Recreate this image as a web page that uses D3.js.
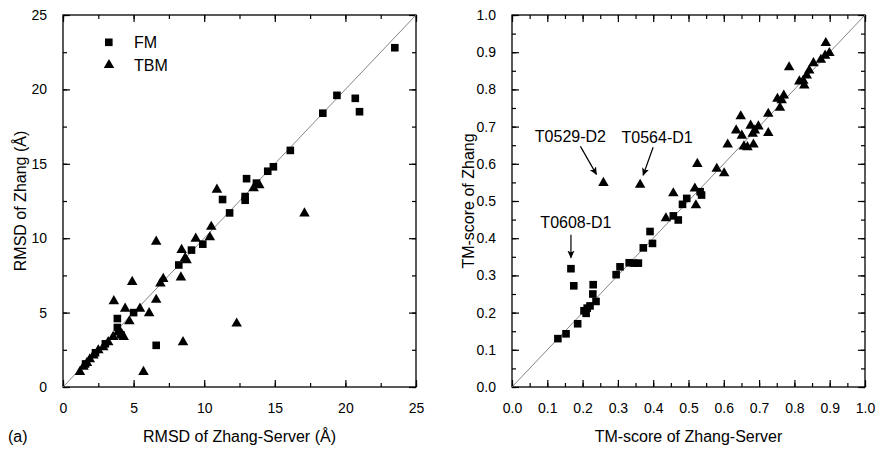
<!DOCTYPE html>
<html>
<head>
<meta charset="utf-8">
<script src="https://cdn.jsdelivr.net/npm/d3@7"></script>
<style>
  body { margin: 0; background: #fff; }
  svg text { font-family: "Liberation Sans", Arial, sans-serif; fill: #000; }
</style>
</head>
<body>
<div id="chart"></div>
<script>
// left panel: RMSD (x = Zhang-Server, y = Zhang)
var rmsdFM = [
  [23.5, 22.8], [19.4, 19.6], [20.7, 19.4], [21.0, 18.5], [18.4, 18.4],
  [16.1, 15.9], [14.9, 14.8], [14.5, 14.5], [13.0, 14.0], [13.7, 13.7],
  [12.9, 12.8], [12.9, 12.55], [11.8, 11.7], [11.3, 12.6], [9.9, 9.6],
  [9.1, 9.2], [8.2, 8.2], [5.0, 5.0], [3.85, 4.6], [3.85, 4.0],
  [6.6, 2.8], [4.1, 3.5], [3.0, 2.9], [2.3, 2.3], [1.6, 1.55]
];
var rmsdTBM = [
  [17.1, 11.7], [12.3, 4.3], [10.9, 13.3], [10.5, 10.8], [10.4, 10.1],
  [9.4, 10.0], [6.6, 9.8], [8.4, 9.25], [8.75, 8.55], [8.65, 8.7],
  [8.35, 7.4], [7.1, 7.3], [6.9, 7.0], [4.9, 7.1], [6.6, 5.9],
  [3.6, 5.8], [4.4, 5.3], [5.45, 5.3], [6.1, 5.0], [4.7, 4.45],
  [4.15, 3.6], [3.9, 3.7], [4.3, 3.4], [8.5, 3.05], [5.7, 1.05],
  [13.5, 13.4], [13.9, 13.6], [3.55, 3.4], [3.2, 3.05], [2.85, 2.7],
  [2.5, 2.5], [2.15, 2.15], [1.9, 1.9], [1.7, 1.65], [1.45, 1.4], [1.2, 1.05]
];

// right panel: TM-score
var tmFM = [
  [0.13, 0.13], [0.153, 0.143], [0.167, 0.318], [0.175, 0.272], [0.186, 0.17],
  [0.204, 0.205], [0.21, 0.198], [0.213, 0.212], [0.221, 0.218], [0.229, 0.25],
  [0.23, 0.275], [0.238, 0.23], [0.295, 0.302], [0.306, 0.323], [0.332, 0.334],
  [0.346, 0.333], [0.358, 0.333], [0.372, 0.374], [0.391, 0.418], [0.398, 0.386],
  [0.457, 0.46], [0.471, 0.449], [0.483, 0.491], [0.495, 0.507], [0.533, 0.525],
  [0.537, 0.516]
];
var tmTBM = [
  [0.259, 0.55], [0.363, 0.545], [0.436, 0.455], [0.457, 0.522], [0.518, 0.535],
  [0.521, 0.49], [0.525, 0.601], [0.58, 0.588], [0.601, 0.576], [0.611, 0.653],
  [0.635, 0.691], [0.648, 0.729], [0.651, 0.677], [0.657, 0.648], [0.667, 0.646],
  [0.676, 0.704], [0.682, 0.682], [0.684, 0.653], [0.688, 0.691], [0.698, 0.702],
  [0.726, 0.736], [0.726, 0.684], [0.752, 0.776], [0.759, 0.752], [0.764, 0.772],
  [0.77, 0.785], [0.785, 0.861], [0.814, 0.823], [0.825, 0.825], [0.828, 0.812],
  [0.835, 0.839], [0.842, 0.852], [0.854, 0.872], [0.875, 0.881], [0.887, 0.892],
  [0.899, 0.899], [0.889, 0.926]
];

var rmsdTicks = [0, 5, 10, 15, 20, 25];
var tmTicks = [0, 0.1, 0.2, 0.3, 0.4, 0.5, 0.6, 0.7, 0.8, 0.9, 1.0];

// annotations: label and the point it marks
var tmNotes = [
  ["T0529-D2", 0.259, 0.55],
  ["T0564-D1", 0.363, 0.545],
  ["T0608-D1", 0.167, 0.318]
];

var svg = d3.select("#chart").append("svg")
  .attr("width", 880).attr("height", 454);

svg.append("defs").append("marker")
  .attr("id", "arrow")
  .attr("viewBox", "0 0 10 10")
  .attr("refX", 9).attr("refY", 5)
  .attr("markerWidth", 8).attr("markerHeight", 8)
  .attr("markerUnits", "userSpaceOnUse")
  .attr("orient", "auto")
  .append("path").attr("d", "M0,0.5 L10,5 L0,9.5 L2.5,5 Z").attr("fill", "#000");

function drawPanel(opt) {
  var x = d3.scaleLinear().domain(opt.domain).range([opt.left, opt.right]);
  var y = d3.scaleLinear().domain(opt.domain).range([opt.bottom, opt.top]);
  var g = svg.append("g");

  // inward ticks on all four sides
  var axes = [
    [d3.axisBottom(x), "translate(0," + opt.bottom + ")", true],
    [d3.axisTop(x), "translate(0," + opt.top + ")", false],
    [d3.axisLeft(y), "translate(" + opt.left + ",0)", true],
    [d3.axisRight(y), "translate(" + opt.right + ",0)", false]
  ];
  axes.forEach(function(a) {
    var gm = g.append("g").attr("transform", a[1])
      .call(a[0].tickValues(opt.minor).tickSize(-4).tickFormat(""));
    gm.select(".domain").remove();
    gm.selectAll("line").attr("stroke", "#000").attr("stroke-width", 1.2);
    var ga = g.append("g").attr("transform", a[1])
      .call(a[0].tickValues(opt.ticks).tickSize(-7).tickPadding(a[2] ? 16 : 0)
        .tickFormat(a[2] ? opt.fmt : ""));
    ga.select(".domain").remove();
    ga.selectAll("line").attr("stroke", "#000").attr("stroke-width", 1.2);
    ga.selectAll("text").style("font-size", "14px");
  });

  g.append("rect")
    .attr("x", opt.left).attr("y", opt.top)
    .attr("width", opt.right - opt.left).attr("height", opt.bottom - opt.top)
    .attr("fill", "none").attr("stroke", "#000").attr("stroke-width", 1.3);

  // y = x reference line
  g.append("line")
    .attr("x1", x(opt.domain[0])).attr("y1", y(opt.domain[0]))
    .attr("x2", x(opt.domain[1])).attr("y2", y(opt.domain[1]))
    .attr("stroke", "#777").attr("stroke-width", 0.9);

  g.selectAll(".sq").data(opt.fm).enter().append("rect")
    .attr("x", function(d) { return x(d[0]) - 3.8; })
    .attr("y", function(d) { return y(d[1]) - 3.8; })
    .attr("width", 7.6).attr("height", 7.6)
    .attr("fill", "#000");

  var tri = d3.symbol().type(d3.symbolTriangle).size(48);
  g.selectAll(".tr").data(opt.tbm).enter().append("path")
    .attr("d", tri)
    .attr("transform", function(d) { return "translate(" + x(d[0]) + "," + (y(d[1]) + 0.5) + ")"; })
    .attr("fill", "#000");

  g.append("text")
    .attr("x", (opt.left + opt.right) / 2).attr("y", 442)
    .attr("text-anchor", "middle").style("font-size", "16px")
    .text(opt.xTitle);
  g.append("text")
    .attr("transform", "translate(" + opt.yTitleX + "," + ((opt.top + opt.bottom) / 2) + ") rotate(-90)")
    .attr("text-anchor", "middle").style("font-size", "16px")
    .text(opt.yTitle);

  return {x: x, y: y, g: g};
}

var left = drawPanel({
  domain: [0, 25], left: 63, right: 416, top: 15, bottom: 387,
  ticks: rmsdTicks, minor: d3.range(0, 25.01, 2.5), fmt: d3.format("d"),
  fm: rmsdFM, tbm: rmsdTBM,
  xTitle: "RMSD of Zhang-Server (\u00c5)", yTitle: "RMSD of Zhang (\u00c5)", yTitleX: 26
});

var right = drawPanel({
  domain: [0, 1], left: 512, right: 865, top: 15, bottom: 387,
  ticks: tmTicks, minor: d3.range(0, 1.001, 0.05), fmt: d3.format(".1f"),
  fm: tmFM, tbm: tmTBM,
  xTitle: "TM-score of Zhang-Server", yTitle: "TM-score of Zhang", yTitleX: 474
});

// legend
var lg = left.g.append("g");
lg.append("rect").attr("x", 105).attr("y", 38.5).attr("width", 7.6).attr("height", 7.6).attr("fill", "#000");
lg.append("path").attr("d", d3.symbol().type(d3.symbolTriangle).size(48))
  .attr("transform", "translate(109,65)").attr("fill", "#000");
lg.append("text").attr("x", 134).attr("y", 48).style("font-size", "16px").text("FM");
lg.append("text").attr("x", 134).attr("y", 71).style("font-size", "16px").text("TBM");

svg.append("text").attr("x", 8).attr("y", 442).style("font-size", "16px").text("(a)");

// annotations on right panel: text dx, text dy, arrow start dx,dy, arrow end dx,dy
var noteOff = [
  [-33, -40, -23, -36, -7, -8],
  [17, -41, 13, -37, 3, -9],
  [5, -41, 0, -34, 0, -11]
];
tmNotes.forEach(function(n, i) {
  var px = right.x(n[1]), py = right.y(n[2]);
  var o = noteOff[i];
  right.g.append("line")
    .attr("x1", px + o[2]).attr("y1", py + o[3])
    .attr("x2", px + o[4]).attr("y2", py + o[5])
    .attr("stroke", "#000").attr("stroke-width", 1.2)
    .attr("marker-end", "url(#arrow)");
  right.g.append("text")
    .attr("x", px + o[0]).attr("y", py + o[1])
    .attr("text-anchor", "middle").style("font-size", "16px")
    .text(n[0]);
});
</script>
</body>
</html>
